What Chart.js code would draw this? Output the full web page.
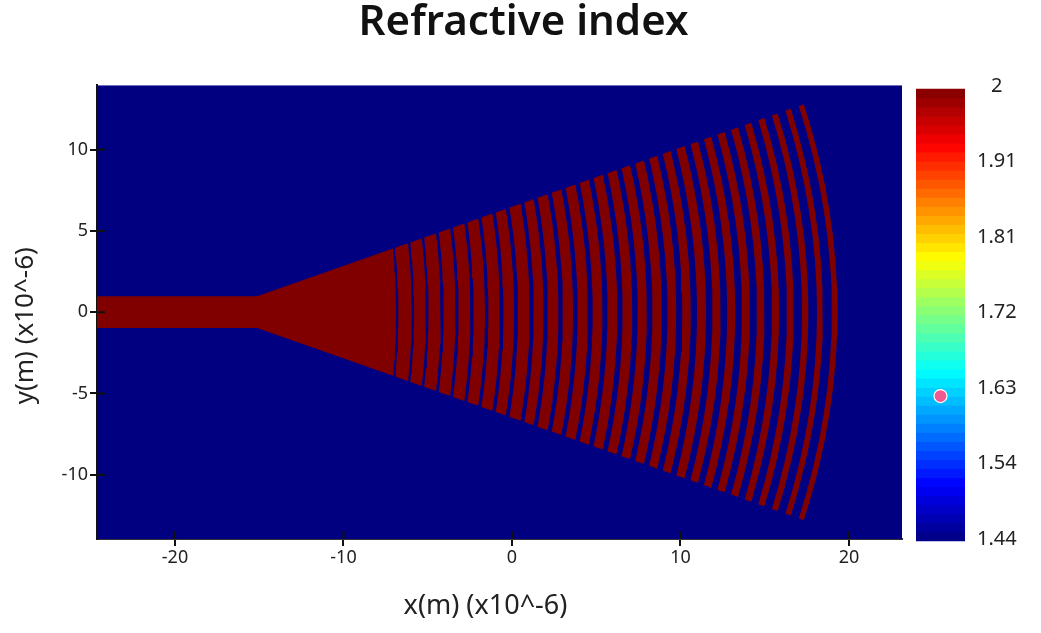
<!DOCTYPE html>
<html>
<head>
<meta charset="utf-8">
<script src="https://cdn.jsdelivr.net/npm/chart.js@4"></script>
<style>
html,body{margin:0;padding:0;background:#fff;overflow:hidden;width:1041px;height:633px}
canvas{position:absolute;left:0;top:0;filter:blur(0.45px)}
</style>
</head>
<body>
<canvas id="main" width="1047" height="633" style="width:1047px;height:633px"></canvas>
<canvas id="bar" width="1041" height="633" style="width:1041px;height:633px"></canvas>
<script>
// ---- data (micrometres) ----
const xRange = [-24.63, 23.15];
const yRange = [-13.95, 13.95];
const xTickStep = 10;
const yTickStep = 5;
const apexX = -17.82;           // point the taper edges converge to
const sectorHalfAngle = 20;     // degrees
const waveguideHalfWidth = 0.98;
const ringCurvatureRadius = 41; // curvature of the grating rings
// centre and width of each low-index groove where it crosses y = 0
const grooveCenterX = [-6.81,-5.88,-5.03,-4.14,-3.26,-2.37,-1.50,-0.61,0.24,1.17,2.00,2.89,3.76,4.65,5.52,6.41,7.30,8.17,9.06,9.93,10.80,11.71,12.58,13.45,14.33,15.21,16.09,16.97,17.85,18.72];
const grooveWidthX = [0.13,0.14,0.15,0.17,0.18,0.19,0.20,0.21,0.23,0.24,0.25,0.26,0.27,0.28,0.30,0.31,0.32,0.33,0.34,0.36,0.37,0.38,0.39,0.40,0.42,0.44,0.46,0.49,0.51,0.53];
const lastRingOuterX = 19.32;
// colour bar
const cbMin = 1.44;
const cbMax = 2;
const cbTickValues = [1.44,1.5333,1.6267,1.72,1.8133,1.9067,2];
const cbTickLabels = ['1.44','1.54','1.63','1.72','1.81','1.91','2'];
const cbStopPos = [0,0.125,0.375,0.625,0.875,1];
const cbStopRGB = [[0,0,128],[0,0,255],[0,255,255],[255,255,0],[255,0,0],[128,0,0]];
const cbSteps = 50;
const markerValue = 1.6196;
// ---- text ----
const titleText = 'Refractive index';
const xTitle = 'x(m) (x10^-6)    ';
const yTitle = 'y(m) (x10^-6)    ';
// ---- colours ----
const LOW = '#000080', HIGH = '#800000', INK = '#222222';
const FONT = '"Noto Sans"';

// ---- geometry helpers ----
const slope = Math.tan(sectorHalfAngle*Math.PI/180);
const samples = 16;
// ring edge crossing y = 0 at X, clipped by the taper's straight sides
function ringEdge(X, upward) {
  const R = ringCurvatureRadius;
  const yEnd = (Math.sqrt(1 + 2*slope*slope*(X-apexX)/R) - 1)*R/slope;
  const pts = [];
  for (let i = 0; i <= samples; i++) {
    const y = yEnd*(2*i/samples - 1)*(upward ? 1 : -1);
    pts.push({x: X - y*y/(2*R), y});
  }
  return pts;
}
const poly = (points, color, order) => ({data: points, showLine: true, fill: 'shape', backgroundColor: color,
  borderWidth: 0, borderColor: color, pointRadius: 0, pointHoverRadius: 0, tension: 0, order});

const datasets = [];
// background of the map
datasets.push(poly([{x:xRange[0],y:yRange[0]},{x:xRange[1],y:yRange[0]},{x:xRange[1],y:yRange[1]},{x:xRange[0],y:yRange[1]}], LOW, 3));
// waveguide and solid part of the taper
const taperStartX = apexX + waveguideHalfWidth/slope;
datasets.push(poly([
  {x:xRange[0],y:-waveguideHalfWidth},{x:taperStartX,y:-waveguideHalfWidth},
  ...ringEdge(grooveCenterX[0] - grooveWidthX[0]/2, true),
  {x:taperStartX,y:waveguideHalfWidth},{x:xRange[0],y:waveguideHalfWidth}], HIGH, 1));
// rings between the grooves
grooveCenterX.forEach((c,i) => {
  const inner = c + grooveWidthX[i]/2;
  const outer = i+1 < grooveCenterX.length ? grooveCenterX[i+1] - grooveWidthX[i+1]/2 : lastRingOuterX;
  datasets.push(poly([...ringEdge(inner,true), ...ringEdge(outer,false)], HIGH, 1));
});

// inward half of the tick marks
const innerTicks = {
  id:'innerTicks',
  afterDatasetsDraw(chart){
    const {ctx, chartArea:a, scales:{x,y}} = chart;
    ctx.save(); ctx.strokeStyle = '#111'; ctx.lineWidth = 2; ctx.beginPath();
    x.ticks.forEach((t,i)=>{const p=x.getPixelForTick(i); ctx.moveTo(p,a.bottom); ctx.lineTo(p,a.bottom-8);});
    y.ticks.forEach((t,i)=>{const p=y.getPixelForTick(i); ctx.moveTo(a.left,p); ctx.lineTo(a.left+8,p);});
    ctx.stroke(); ctx.restore();
  }
};

const commonTick = {color:INK, font:{family:FONT, size:18}, includeBounds:false, maxRotation:0, autoSkip:false};
new Chart(document.getElementById('main'), {
  type:'scatter',
  data:{datasets},
  plugins:[innerTicks],
  options:{
    responsive:false, animation:false, devicePixelRatio:1,
    plugins:{
      legend:{display:false}, tooltip:{enabled:false},
      title:{display:true,text:titleText,color:'#111',font:{family:FONT,size:42,weight:'600',lineHeight:1.08},padding:{top:0,bottom:40}}
    },
    scales:{
      x:{type:'linear',min:xRange[0],max:xRange[1],
        afterFit(s){s.height=94;},
        grid:{drawOnChartArea:false,drawTicks:true,tickLength:7,color:'#111',lineWidth:2},
        border:{display:true,color:'#333',width:2},
        ticks:{...commonTick,stepSize:xTickStep,padding:1},
        title:{display:true,text:xTitle,color:INK,font:{family:FONT,size:27},padding:{top:0,bottom:10}}},
      y:{type:'linear',min:yRange[0],max:yRange[1],
        afterFit(s){s.width=97;},
        grid:{drawOnChartArea:false,drawTicks:true,tickLength:7,color:'#111',lineWidth:2},
        border:{display:true,color:'#111',width:2},
        ticks:{...commonTick,stepSize:yTickStep,padding:2},
        title:{display:true,text:yTitle,color:INK,font:{family:FONT,size:26},padding:{top:10,bottom:0}}},
      // empty right gutter that leaves room for the colour bar
      gutter:{type:'linear',position:'right',display:true,min:0,max:1,
        afterFit(s){s.width=145;},
        afterBuildTicks(s){s.ticks=[];},
        grid:{display:false,drawTicks:false},border:{display:false},ticks:{display:false}}
    }
  }
});

// ---- colour bar ----
function jet(f){
  let i=0; while(i<cbStopPos.length-2 && f>cbStopPos[i+1]) i++;
  const t=(f-cbStopPos[i])/(cbStopPos[i+1]-cbStopPos[i]);
  const c=cbStopRGB[i].map((v,k)=>Math.round(v+(cbStopRGB[i+1][k]-v)*t));
  return `rgb(${c[0]},${c[1]},${c[2]})`;
}
const cbDatasets=[];
for(let i=0;i<cbSteps;i++){
  const lo=cbMin+(cbMax-cbMin)*i/cbSteps, hi=cbMin+(cbMax-cbMin)*(i+1)/cbSteps;
  cbDatasets.push({type:'bar',data:[[lo,i+1<cbSteps?hi+0.0008:hi]],backgroundColor:jet((i+0.5)/cbSteps),
    borderWidth:0,barPercentage:1,categoryPercentage:1,grouped:false,yAxisID:'yBar',order:cbSteps-i});
}
cbDatasets.push({type:'line',data:[markerValue],yAxisID:'yBar',showLine:false,order:0,
  pointRadius:6.5,pointBorderWidth:1.2,pointBorderColor:'#ffffff',pointBackgroundColor:'#ef5a92'});

new Chart(document.getElementById('bar'),{
  data:{labels:['colorbar'],datasets:cbDatasets},
  options:{
    responsive:false, animation:false, devicePixelRatio:1,
    layout:{padding:{left:916,right:0,top:80,bottom:88}},
    plugins:{legend:{display:false},tooltip:{enabled:false},title:{display:false}},
    scales:{
      x:{type:'category',display:false},
      yBar:{type:'linear',display:false,position:'left',min:1.43504,max:2.01115},
      yLabels:{type:'linear',position:'right',min:1.43258,max:2.00742,
        afterFit(s){s.width=76;},
        afterBuildTicks(s){s.ticks=cbTickValues.map(v=>({value:v}));},
        grid:{display:false,drawTicks:false},
        border:{display:false},
        ticks:{color:INK,font:{family:FONT,size:20},padding:12,crossAlign:'center',autoSkip:false,
          callback(v){const i=cbTickValues.indexOf(v);return cbTickLabels[i];}}
      }
    }
  }
});
</script>
</body>
</html>
